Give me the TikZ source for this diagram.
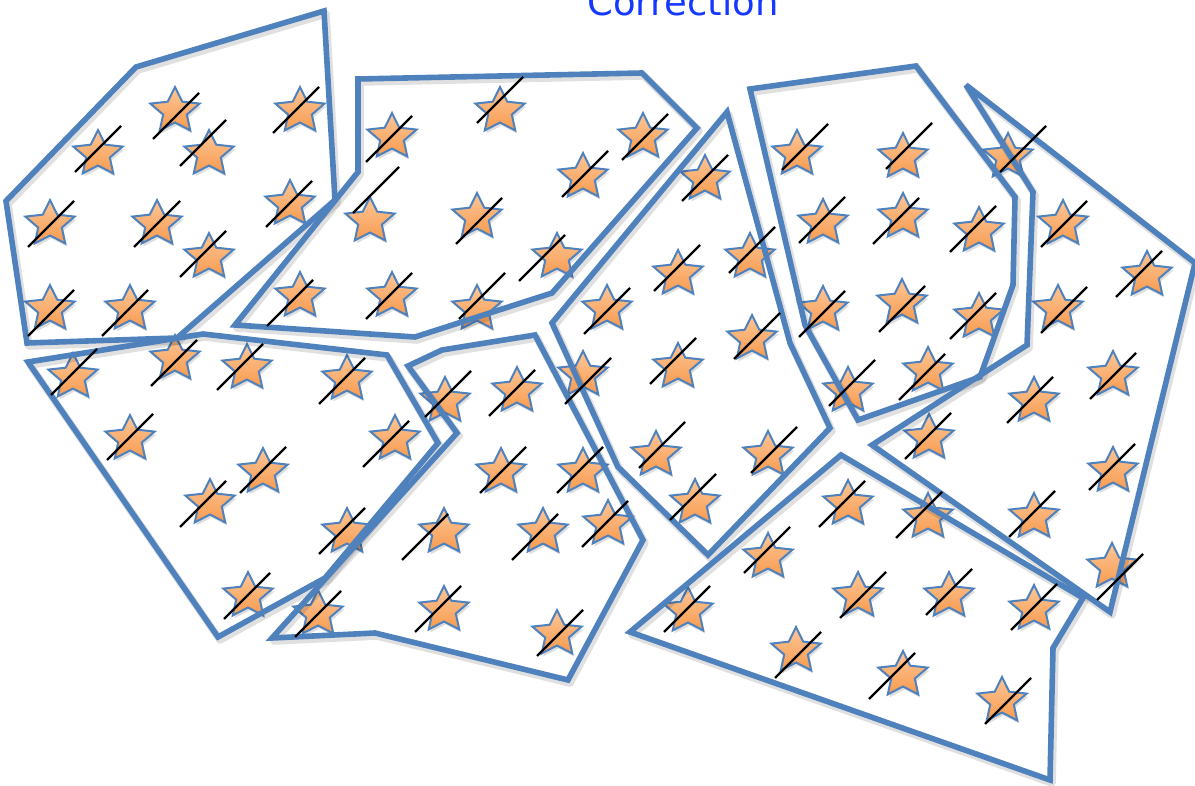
\documentclass[tikz,border=0pt]{standalone}
\usepackage{fontspec}
\newfontfamily\titlefont{DejaVu Sans}
\definecolor{regblue}{HTML}{4F81BD}
\definecolor{starlight}{HTML}{FCC698}
\definecolor{stardark}{HTML}{F89A4E}
\definecolor{titleblue}{HTML}{1438FF}
\tikzset{
  region/.style={draw=regblue, line width=2.8pt, line join=miter, miter limit=4},
  regshadow/.style={draw=black, opacity=0.12, line width=3.8pt, line join=round},
  starfill/.style={draw=regblue, line width=1pt, line join=miter, top color=starlight, bottom color=stardark},
  starshadow/.style={fill=black, opacity=0.13},
  slashline/.style={draw=black, line width=1.2pt},
  titletext/.style={font=\titlefont\fontsize{18.5}{20}\selectfont, text=titleblue, inner sep=0pt},
  starpic/.pic={
    \begin{scope}[xscale=1.08]
    \path[starshadow, shift={(1.5,3)}] (270:24) -- (306:11.5) -- (342:24) -- (18:11.5) -- (54:24) -- (90:11.5)
       -- (126:24) -- (162:11.5) -- (198:24) -- (234:11.5) -- cycle;
    \path[starfill] (270:24) -- (306:11.5) -- (342:24) -- (18:11.5) -- (54:24) -- (90:11.5)
       -- (126:24) -- (162:11.5) -- (198:24) -- (234:11.5) -- cycle;
    \end{scope}
    \coordinate (-c) at (0,0);
  }
}
\begin{document}
\begin{tikzpicture}[x=0.5pt,y=-0.5pt]
\useasboundingbox (0,0) rectangle (1195,786);
\clip (0,0) rectangle (1195,786);
% title
\node[titletext, anchor=base] (title) at (683,16) {Correction};
% stars
\foreach \sx/\sy [count=\i] in {
 175/111, 300/111, 98/154, 209/154, 50/224, 157/224, 290/204, 209/257, 50/309, 130/309,
 500/111, 392/137, 643/137, 583/177, 370/221, 477/217, 557/257, 392/296, 477/309, 300/296,
 705/179, 678/274, 750/257, 607/309, 678/367, 752/339, 583/375, 656/455, 768/455, 695/503,
 797/154, 903/157, 823/223, 903/217, 979/231, 823/310, 902/303, 979/317, 848/391, 928/371,
 1008/157,
 1063/224, 1147/275, 1058/309, 1113/375, 1034/401, 929/438, 1113/471, 928/517, 1034/517, 1112/567,
 848/504, 768/557, 688/611, 858/596, 949/596, 1034/609, 796/651, 903/675, 1002/701,
 73/377, 175/359, 247/368, 347/379, 130/439, 395/439, 263/472, 210/503, 347/532, 248/596,
 445/401, 517/391, 501/472, 583/472, 444/532, 543/532, 608/524, 444/610, 557/634, 318/614}
 { \pic (s\i) at (\sx,\sy) {starpic}; }
% regions
\foreach \dx/\dy/\st in {2/3/regshadow, 0/0/region}{
\begin{scope}[shift={(\dx,\dy)}]
\draw[\st] (324,11) -- (136,67) -- (6,201) -- (27,343) -- (177,338) -- (335,200) -- cycle;
\draw[\st] (358,79) -- (642,73) -- (697,128) -- (552,293) -- (415,337) -- (235,325) -- (358,172) -- cycle;
\draw[\st] (727,112) -- (790,343) -- (830,428) -- (708,555) -- (618,467) -- (552,323) -- cycle;
\draw[\st] (750,89) -- (916,66) -- (1015,197) -- (1013,285) -- (980,377) -- (858,420) -- (805,325) -- cycle;
\draw[\st] (966,85) -- (1195,263) -- (1110,612) -- (872,445) -- (1027,345) -- (1033,192) -- cycle;
\draw[\st] (841,455) -- (1083,598) -- (1053,648) -- (1050,780) -- (630,632) -- cycle;
\draw[\st] (28,362) -- (203,334) -- (387,355) -- (438,443) -- (325,578) -- (218,637) -- cycle;
\draw[\st] (408,366) -- (442,350) -- (535,335) -- (643,540) -- (568,680) -- (375,633) -- (272,638) -- (457,433) -- cycle;
\end{scope}}
% slashes
\foreach \lx/\ly in {
 176/116, 296/110, 98/149, 203/143, 51/224, 157/224, 289/204, 203/254, 51/313, 125/313,
 500/100, 389/139, 645/137, 585/174, 376/190, 479/221, 542/258, 389/296, 482/296, 290/303,
 705/178, 677/268, 752/250, 607/311, 673/361, 757/336, 588/381, 662/445, 774/450, 693/497,
 805/147, 909/146, 822/220, 896/221, 973/229, 822/314, 902/309, 973/316, 852/383, 922/377,
 1023/149,
 1064/224, 1139/274, 1064/310, 1113/376, 1030/400, 928/436, 1112/467, 919/515, 1032/514, 1120/577,
 842/504, 767/550, 687/609, 863/595, 949/592, 1034/607, 798/655, 892/676, 1008/701,
 74/372, 174/363, 240/367, 342/381, 130/437, 386/444, 263/470, 203/504, 342/531, 247/596,
 448/394, 512/393, 503/470, 580/470, 425/537, 535/537, 605/524, 438/609, 560/633, 318/614}
 { \draw[slashline] ({\lx-23},{\ly+23}) -- ({\lx+23},{\ly-23}); }
\end{tikzpicture}
\end{document}
